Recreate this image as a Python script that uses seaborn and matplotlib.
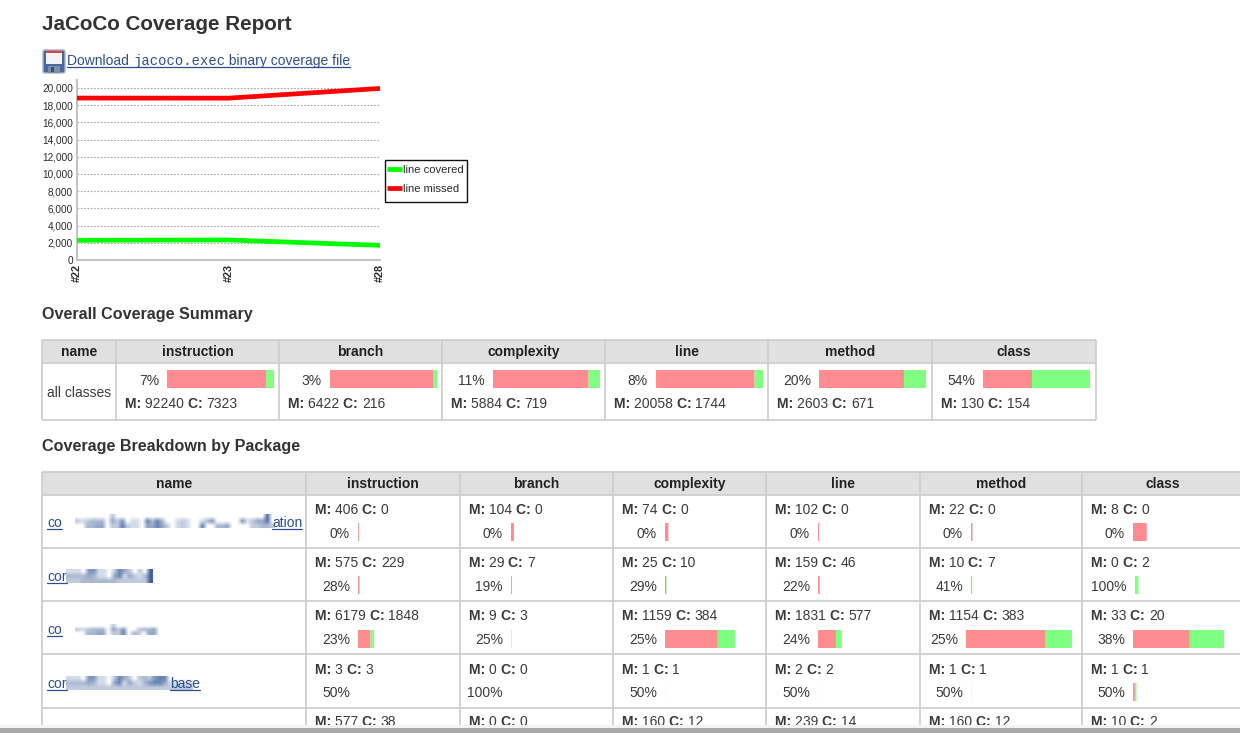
import numpy as np
import pandas as pd
import matplotlib
matplotlib.use("Agg")
import matplotlib.pyplot as plt
from matplotlib.colors import to_rgb
from matplotlib.patches import Rectangle, FancyBboxPatch
import seaborn as sns

# trend chart data
builds = ["#22", "#23", "#28"]
line_covered = [2290, 2330, 1700]
line_missed = [18830, 18820, 19950]

metrics = ["instruction", "branch", "complexity", "line", "method", "class"]

# overall summary
all_m = [92240, 6422, 5884, 20058, 2603, 130]
all_c = [7323, 216, 719, 1744, 671, 154]
all_pct = ["7%", "3%", "11%", "8%", "20%", "54%"]

# package table, one list per column
instr_m = [406, 575, 6179, 3, 577]
instr_c = [0, 229, 1848, 3, 38]
instr_pct = ["0%", "28%", "23%", "50%", ""]
branch_m = [104, 29, 9, 0, 0]
branch_c = [0, 7, 3, 0, 0]
branch_pct = ["0%", "19%", "25%", "100%", ""]
compl_m = [74, 25, 1159, 1, 160]
compl_c = [0, 10, 384, 1, 12]
compl_pct = ["0%", "29%", "25%", "50%", ""]
line_m = [102, 159, 1831, 2, 239]
line_c = [0, 46, 577, 2, 14]
line_pct = ["0%", "22%", "24%", "50%", ""]
method_m = [22, 10, 1154, 1, 160]
method_c = [0, 7, 383, 1, 12]
method_pct = ["0%", "41%", "25%", "50%", ""]
class_m = [8, 0, 33, 1, 10]
class_c = [0, 2, 20, 1, 2]
class_pct = ["0%", "100%", "38%", "50%", ""]

sns.set_theme(style="white")
plt.rcParams["font.family"] = ["Liberation Sans", "DejaVu Sans"]

TXT = "#3a3a3a"
HEAD = "#222222"
LINK = "#2b4f90"
RULE = "#cfcfcf"
RED = "#ff8c90"
GREEN = "#80ff80"

fig = plt.figure(figsize=(12.4, 7.33), dpi=100, facecolor="white")

# page axes, one unit = one pixel
page = fig.add_axes([0, 0, 1, 1])
page.axis("off")


def runs(x, y, parts, color=TXT, size=10, underline=False):
    # text pieces side by side on one baseline
    rend = fig.canvas.get_renderer()
    x0 = x
    for s, weight, fam in parts:
        t = page.text(x, y, s.replace(" ", "\u00a0"), fontsize=size, fontweight=weight,
                      family=fam, color=color, va="baseline", ha="left", zorder=6)
        x = x + t.get_window_extent(rend).width
    if underline:
        page.plot([x0, x], [y + 2, y + 2], color=color, lw=0.9, zorder=6)
    return x


def bar(x, y, m, c, scale):
    w_m = m * scale
    w_c = c * scale
    # green goes under, hairline bars should stay pink
    for rect in page.barh(y, w_c, height=18, left=x + w_m, align="edge", color=GREEN, linewidth=0, zorder=4):
        rect.set_snap(False)
    for rect in page.barh(y, w_m, height=18, left=x, align="edge", color=RED, linewidth=0, zorder=5):
        rect.set_snap(False)


def grid(xs, ys, head_bottom):
    page.add_patch(Rectangle((xs[0], ys[0]), xs[-1] - xs[0], head_bottom - ys[0],
                             facecolor="#e0e0e0", edgecolor="none", zorder=1))
    for xv in xs:
        page.plot([xv, xv], [ys[0], ys[-1]], color=RULE, lw=1.3, zorder=2, solid_capstyle="butt")
    for yv in ys:
        page.plot([xs[0], xs[-1]], [yv, yv], color=RULE, lw=1.3, zorder=2, solid_capstyle="butt")


def smear(rows, x, y, cell_w, cell_h):
    # pixelated part of a package name, digits are ink strength
    ink = np.array([[int(ch) / 10 for ch in row] for row in rows])
    rgba = np.zeros(ink.shape + (4,))
    rgba[..., :3] = to_rgb(LINK)
    rgba[..., 3] = ink
    page.imshow(rgba, extent=(x, x + cell_w * ink.shape[1], y + cell_h * ink.shape[0], y),
                interpolation="bilinear", aspect="auto", zorder=7)


# headings
page.text(42, 30, "JaCoCo Coverage Report", fontsize=14.9, fontweight="bold", color="#333333")
page.text(42, 319.5, "Overall Coverage Summary", fontsize=11.6, fontweight="bold", color="#333333")
page.text(42, 451.5, "Coverage Breakdown by Package", fontsize=11.6, fontweight="bold", color="#333333")

# download icon
page.add_patch(FancyBboxPatch((43, 50), 22, 23, boxstyle="round,pad=0,rounding_size=2",
                              facecolor="#47699c", edgecolor="#a8b4c6", lw=1, zorder=3))
page.add_patch(Rectangle((46, 51), 16, 13, facecolor="#f4f4f6", edgecolor="none", zorder=4))
page.add_patch(Rectangle((46, 51), 16, 2, facecolor="#e84030", edgecolor="none", zorder=5))
page.add_patch(Rectangle((48, 66), 12, 7, facecolor="#7d8ea6", edgecolor="none", zorder=4))
page.add_patch(Rectangle((51, 67), 3, 5, facecolor="#35507a", edgecolor="none", zorder=5))

runs(67, 65, [("Download ", "normal", "Liberation Sans"),
              ("jacoco.exec", "normal", "Liberation Mono"),
              (" binary coverage file", "normal", "Liberation Sans")],
     color=LINK, underline=True)

# summary table
sum_xs = [42, 116, 279, 442, 605, 768, 932, 1096]
sum_ys = [340, 363, 420]
grid(sum_xs, sum_ys, sum_ys[1])
page.text(79, 356, "name", fontsize=10, fontweight="bold", color=HEAD, ha="center")
page.text(79, 397, "all classes", fontsize=10, color=TXT, ha="center")
for i, name in enumerate(metrics):
    left = sum_xs[i + 1]
    page.text((left + sum_xs[i + 2]) / 2, 356, name, fontsize=10, fontweight="bold",
              color=HEAD, ha="center")
    bx = left + 51
    page.text(bx - 8, 385, all_pct[i], fontsize=10, color=TXT, ha="right")
    bar(bx, 370, all_m[i], all_c[i], 107.0 / (all_m[i] + all_c[i]))
    runs(left + 9, 408, [("M: ", "bold", "Liberation Sans"), (str(all_m[i]) + " ", "normal", "Liberation Sans"),
                         ("C: ", "bold", "Liberation Sans"), (str(all_c[i]), "normal", "Liberation Sans")])

# package table
pkg_xs = [42, 306, 460, 613, 766, 920, 1082, 1250]
pkg_ys = [472, 495, 548, 601, 654, 708, 735]
grid(pkg_xs, pkg_ys, pkg_ys[1])
page.text(174, 488, "name", fontsize=10, fontweight="bold", color=HEAD, ha="center")

col_m = [instr_m, branch_m, compl_m, line_m, method_m, class_m]
col_c = [instr_c, branch_c, compl_c, line_c, method_c, class_c]
col_pct = [instr_pct, branch_pct, compl_pct, line_pct, method_pct, class_pct]
# px per unit in each column
col_scale = [0.002, 0.029, 0.0455, 0.0098, 0.069, 1.72]
col_bar_x = [358, 511, 665, 818, 971, 1133]
row_m_y = [514, 567, 620, 674, 726]
row_pct_y = [538, 591, 644, 697]
row_bar_y = [523, 576, 630, 683]

for j, name in enumerate(metrics):
    left = pkg_xs[j + 1]
    right = min(pkg_xs[j + 2], 1243)
    page.text((left + right) / 2, 488, name, fontsize=10, fontweight="bold", color=HEAD, ha="center")
    for r in range(5):
        m = col_m[j][r]
        c = col_c[j][r]
        runs(left + 9, row_m_y[r], [("M: ", "bold", "Liberation Sans"), (str(m) + " ", "normal", "Liberation Sans"),
                                    ("C: ", "bold", "Liberation Sans"), (str(c), "normal", "Liberation Sans")])
        if r < 4:
            bx = col_bar_x[j]
            if j == 4 and r == 2:
                bx = 966
            if j == 5 and r == 1:
                bx = 1135
            page.text(bx - 8, row_pct_y[r], col_pct[j][r], fontsize=10, color=TXT, ha="right")
            bar(bx, row_bar_y[r], m, c, col_scale[j])

# package names, the middle part is pixelated in the source
name_y = [527, 581, 634, 688]
runs(47, name_y[0], [("co", "normal", "Liberation Sans")], color=LINK, underline=True)
runs(272, name_y[0], [("ation", "normal", "Liberation Sans")], color=LINK, underline=True)
runs(47, name_y[1], [("cor", "normal", "Liberation Sans")], color=LINK, underline=True)
runs(47, name_y[2], [("co", "normal", "Liberation Sans")], color=LINK, underline=True)
runs(47, name_y[3], [("cor", "normal", "Liberation Sans")], color=LINK, underline=True)
runs(170, name_y[3], [("base", "normal", "Liberation Sans")], color=LINK, underline=True)

smear(["0000000300000000000000000000000000000080",
       "3234440536022074740023200246000006235580",
       "0044550337322055753023200700445000033443"], 75, 515, 5, 4.5)
smear(["22206622037530309",
       "44445422057253249",
       "33344444443333339"], 66, 570, 5.06, 4.5)
smear(["00000003000000000",
       "32344405360034450",
       "00445503370430550"], 75, 625, 5.06, 3.5)
smear(["2220662203753034367700000",
       "4444542205725324677522222",
       "3333333333333333333333333"], 66, 677, 5.08, 4.5)

# legend box of the trend chart
page.add_patch(Rectangle((385, 160), 82, 42, facecolor="white", edgecolor="#111111", lw=1, zorder=3))

# window bottom edge covers the cut off row
page.add_patch(Rectangle((0, 725), 1240, 3, facecolor="#f3f3f3", edgecolor="none", zorder=8))
page.add_patch(Rectangle((0, 728), 1240, 5, facecolor="#a9a9a9", edgecolor="none", zorder=8))
page.set_xlim(0, 1240)
page.set_ylim(733, 0)

# trend chart
ax = fig.add_axes([77 / 1240, 1 - 260 / 733, 303 / 1240, 180 / 733])
ax.patch.set_alpha(0)
trend = pd.DataFrame({
    "build": np.tile(np.arange(len(builds)), 2),
    "count": line_covered + line_missed,
    "series": ["line covered"] * len(builds) + ["line missed"] * len(builds),
})
sns.lineplot(data=trend, x="build", y="count", hue="series",
             palette={"line covered": "#00ff00", "line missed": "#ff0000"},
             linewidth=3.4, ax=ax, clip_on=False, zorder=5)
for ln in ax.lines:
    ln.set_solid_capstyle("butt")
ax.set_xlim(0, 2)
ax.set_ylim(0, 20930)
ax.set_xlabel("")
ax.set_ylabel("")
ax.set_yticks(np.arange(0, 20001, 2000))
ax.set_yticklabels([f"{v:,}" for v in range(0, 20001, 2000)], fontsize=7.2, color="#2a2a2a")
ax.set_xticks(range(len(builds)))
ax.set_xticklabels(builds, rotation=90, fontsize=7.8, color="#2a2a2a", fontweight="bold")
ax.tick_params(axis="both", length=0, pad=3)
ax.yaxis.grid(True, color="#a4a4a4", lw=0.8, ls=(0, (1.5, 1.5)))
ax.set_axisbelow(True)
sns.despine(ax=ax, top=True, right=True)
ax.spines["left"].set_color("#c4c4c4")
ax.spines["left"].set_linewidth(1.5)
ax.spines["bottom"].set_color("#c4c4c4")
ax.spines["bottom"].set_linewidth(1.5)

handles, labels = ax.get_legend_handles_labels()
leg = ax.legend(handles, labels, loc="upper left", bbox_to_anchor=(387 / 1240, 1 - 165 / 733),
                bbox_transform=fig.transFigure, borderaxespad=0, frameon=False,
                handlelength=1.33, handletextpad=0.1, labelspacing=0.82,
                borderpad=0, prop={"size": 8.1})
for t in leg.get_texts():
    t.set_color("#2a2a2a")

fig.savefig("out.png", dpi=100)
